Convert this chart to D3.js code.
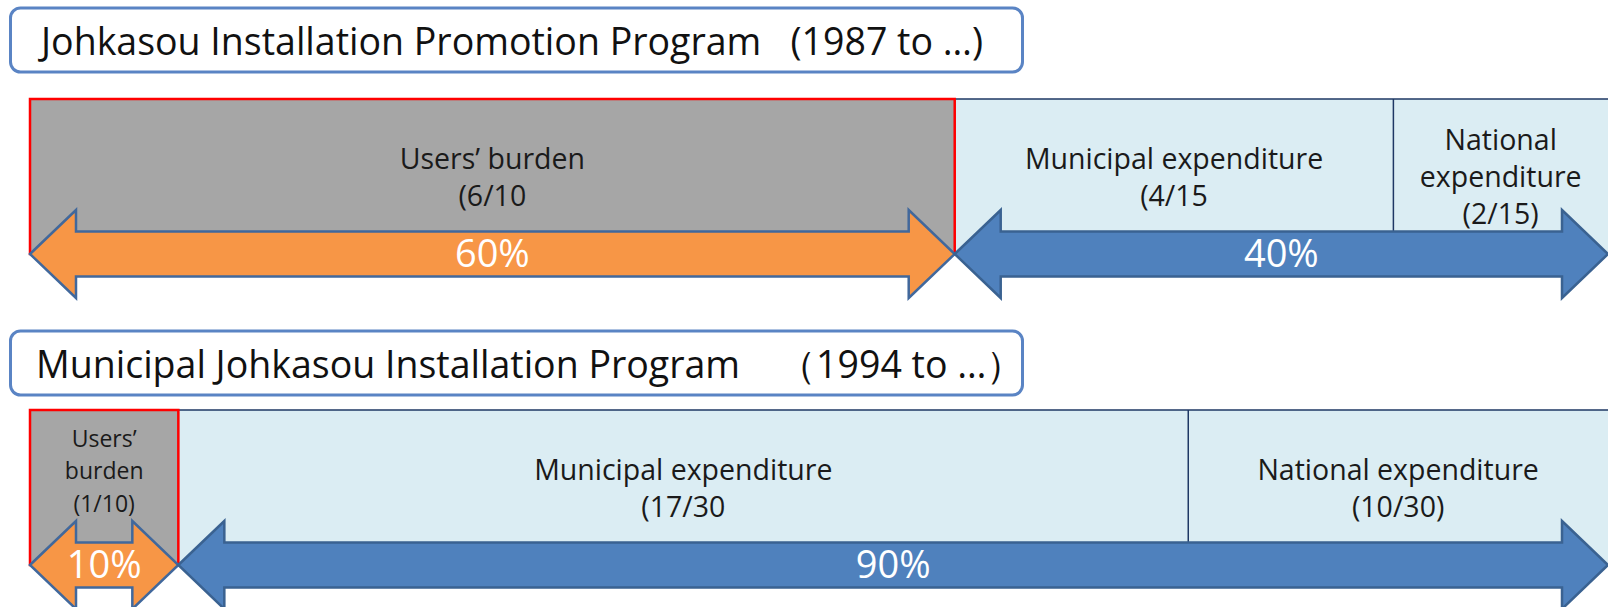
<!DOCTYPE html>
<html>
<head>
    <title>Johkasou cost sharing</title>
    <script src="https://d3js.org/d3.v7.min.js"></script>
    <style>
        body { margin: 0; background: #fff; }
        svg { display: block; }
        text { font-family: "Open Sans", Lato, sans-serif; }
        .title { font-size: 37.5px; fill: #111; white-space: pre; }
        .seg-label { font-size: 28.5px; fill: #1a1a1a; }
        .pct { font-size: 38px; fill: #fff; }
    </style>
</head>
<body>
    <svg id="chart" width="1608" height="607"></svg>

    <script>
        // program titles
        var programs = [
            "Johkasou Installation Promotion Program   (1987 to \u2026)",
            "Municipal Johkasou Installation Program\u3000\uff081994 to \u2026\uff09"
        ];

        // segment labels (one array of lines per segment)
        var labels1 = [["Users\u2019 burden", "(6/10"], ["Municipal expenditure", "(4/15"], ["National", "expenditure", "(2/15)"]];
        var labels2 = [["Users\u2019", "burden", "(1/10)"], ["Municipal expenditure", "(17/30"], ["National expenditure", "(10/30)"]];

        // share of the bar width taken by each segment, as drawn (percent)
        var widths1 = [58.6, 27.8, 13.6];
        var widths2 = [9.4, 64.0, 26.6];

        // arrows: users share / public share
        var arrows1 = ["60%", "40%"];
        var arrows2 = ["10%", "90%"];

        var rows = [
            { title: programs[0], labels: labels1, widths: widths1, arrows: arrows1 },
            { title: programs[1], labels: labels2, widths: widths2, arrows: arrows2 }
        ];

        // vertical placement of each block
        var layout = [
            { titleY: 8, titleX: 41, barY: 99 },
            { titleY: 331, titleX: 36, barY: 410 }
        ];

        var svg = d3.select("#chart");
        var x = d3.scaleLinear().domain([0, 100]).range([30, 1608]);

        var headLen = 46, headHalf = 44, shaftHalf = 22.5;

        function arrowPath(x0, x1, cy) {
            return "M" + x0 + "," + cy +
                "L" + (x0 + headLen) + "," + (cy - headHalf) +
                "L" + (x0 + headLen) + "," + (cy - shaftHalf) +
                "L" + (x1 - headLen) + "," + (cy - shaftHalf) +
                "L" + (x1 - headLen) + "," + (cy - headHalf) +
                "L" + x1 + "," + cy +
                "L" + (x1 - headLen) + "," + (cy + headHalf) +
                "L" + (x1 - headLen) + "," + (cy + shaftHalf) +
                "L" + (x0 + headLen) + "," + (cy + shaftHalf) +
                "L" + (x0 + headLen) + "," + (cy + headHalf) + "Z";
        }

        rows.forEach(function(row, i) {
            var L = layout[i];
            var g = svg.append("g");
            var cy = L.barY + 155;

            // title box
            g.append("rect")
                .attr("x", 10.5).attr("y", L.titleY)
                .attr("width", 1012).attr("height", 64)
                .attr("rx", 10)
                .attr("fill", "#fff")
                .attr("stroke", "#5a84c4")
                .attr("stroke-width", 3);
            g.append("text")
                .attr("class", "title")
                .attr("x", L.titleX).attr("y", L.titleY + 47)
                .text(row.title);

            // cumulative segment edges
            var edges = [0];
            row.widths.forEach(function(w) { edges.push(edges[edges.length - 1] + w); });

            // public part (municipal + national)
            g.append("rect")
                .attr("x", x(edges[1])).attr("y", L.barY)
                .attr("width", x(edges[3]) - x(edges[1]) + 2)
                .attr("height", cy - L.barY)
                .attr("fill", "#dbedf3")
                .attr("stroke", "#1f3864")
                .attr("stroke-width", 1.5);
            g.append("line")
                .attr("x1", x(edges[2])).attr("x2", x(edges[2]))
                .attr("y1", L.barY).attr("y2", cy)
                .attr("stroke", "#1f3864")
                .attr("stroke-width", 1.5);

            // users' part
            g.append("rect")
                .attr("x", x(edges[0])).attr("y", L.barY)
                .attr("width", x(edges[1]) - x(edges[0]))
                .attr("height", cy - L.barY)
                .attr("fill", "#a6a6a6")
                .attr("stroke", "#ff0000")
                .attr("stroke-width", 2.5);

            // arrows
            g.append("path")
                .attr("d", arrowPath(x(edges[0]), x(edges[1]), cy))
                .attr("fill", "#f79646")
                .attr("stroke", "#41689c")
                .attr("stroke-width", 2.5)
                .attr("stroke-linejoin", "miter");
            g.append("path")
                .attr("d", arrowPath(x(edges[1]), x(edges[3]), cy))
                .attr("fill", "#4f81bd")
                .attr("stroke", "#3a6291")
                .attr("stroke-width", 2.5);

            // arrow percentages
            [[edges[0], edges[1]], [edges[1], edges[3]]].forEach(function(span, k) {
                g.append("text")
                    .attr("class", "pct")
                    .attr("x", (x(span[0]) + x(span[1])) / 2)
                    .attr("y", cy + 13)
                    .attr("text-anchor", "middle")
                    .text(row.arrows[k]);
            });

            // segment labels
            row.labels.forEach(function(lines, k) {
                var cx = (x(edges[k]) + x(edges[k + 1])) / 2;
                var narrow = x(edges[k + 1]) - x(edges[k]) < 200;
                var lh = narrow ? 32.5 : 37;
                var mid = L.barY + (narrow ? 69 : 88);
                var t = g.append("text")
                    .attr("class", "seg-label")
                    .attr("text-anchor", "middle")
                    .style("font-size", narrow ? "23px" : null);
                lines.forEach(function(s, j) {
                    t.append("tspan")
                        .attr("x", cx)
                        .attr("y", mid + (j - (lines.length - 1) / 2) * lh)
                        .text(s);
                });
            });
        });
    </script>
</body>
</html>
